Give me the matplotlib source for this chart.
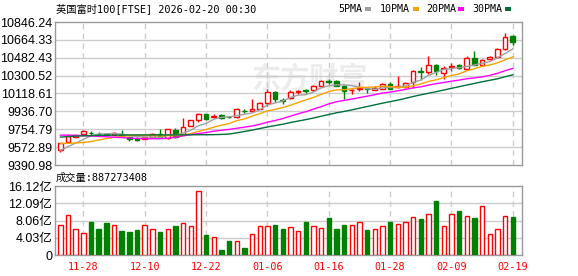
import numpy as np
import matplotlib
matplotlib.use("Agg")
import matplotlib.pyplot as plt
from matplotlib.patches import Rectangle

plt.rcParams['font.family'] = ['Liberation Sans', 'Noto Sans CJK SC']
MONO = ['DejaVu Sans Mono', 'Noto Sans CJK SC']

# trading days shown on the chart (MM-DD)
dates = ["11-25", "11-26", "11-27", "11-28", "12-01", "12-02", "12-03", "12-04", "12-05", "12-08",
         "12-09", "12-10", "12-11", "12-12", "12-15", "12-16", "12-17", "12-18", "12-19", "12-22",
         "12-23", "12-24", "12-29", "12-30", "12-31", "01-02", "01-05", "01-06", "01-07", "01-08",
         "01-09", "01-12", "01-13", "01-14", "01-15", "01-16", "01-19", "01-20", "01-21", "01-22",
         "01-23", "01-26", "01-27", "01-28", "01-29", "01-30", "02-02", "02-03", "02-04", "02-05",
         "02-06", "02-09", "02-10", "02-11", "02-12", "02-13", "02-16", "02-17", "02-18", "02-19"]
tick_dates = ["11-28", "12-10", "12-22", "01-06", "01-16", "01-28", "02-09", "02-19"]

opens = [9546, 9620, 9677, 9708, 9720, 9706, 9711, 9697, 9711, 9677,
         9660, 9657, 9671, 9711, 9661, 9745, 9697, 9792, 9849, 9906,
         9883, 9896, 9881, 9883, 9944, 9940, 9964, 10025, 10136, 10053,
         10068, 10138, 10155, 10152, 10199, 10249, 10250, 10199, 10150, 10165,
         10172, 10159, 10169, 10217, 10182, 10182, 10237, 10348, 10338, 10412,
         10328, 10390, 10405, 10371, 10479, 10412, 10469, 10489, 10573, 10705]
closes = [9610, 9687, 9697, 9732, 9716, 9703, 9694, 9714, 9687, 9657,
          9650, 9671, 9711, 9671, 9755, 9671, 9778, 9846, 9906, 9863,
          9890, 9873, 9876, 9957, 9939, 9957, 10025, 10132, 10058, 10040,
          10136, 10146, 10149, 10199, 10250, 10240, 10199, 10149, 10155, 10172,
          10160, 10176, 10217, 10169, 10192, 10227, 10351, 10340, 10405, 10344,
          10378, 10398, 10378, 10479, 10412, 10462, 10485, 10573, 10698, 10641]
highs = [9615, 9704, 9700, 9748, 9732, 9728, 9715, 9730, 9745, 9680,
         9673, 9676, 9717, 9762, 9758, 9772, 9873, 9850, 9920, 9913,
         9913, 9906, 9893, 9974, 9960, 10058, 10030, 10169, 10142, 10068,
         10152, 10159, 10166, 10206, 10260, 10267, 10258, 10203, 10166, 10233,
         10185, 10199, 10225, 10233, 10293, 10237, 10361, 10384, 10496, 10420,
         10395, 10429, 10415, 10496, 10556, 10470, 10503, 10580, 10732, 10712]
lows = [9525, 9610, 9672, 9705, 9698, 9684, 9690, 9694, 9685, 9640,
        9640, 9652, 9665, 9661, 9655, 9661, 9694, 9787, 9833, 9846,
        9866, 9856, 9866, 9873, 9917, 9937, 9957, 9990, 10035, 10015,
        10058, 10109, 10126, 10145, 10195, 10220, 10192, 10058, 10109, 10145,
        10125, 10150, 10160, 10160, 10176, 10172, 10176, 10260, 10321, 10311,
        10270, 10344, 10370, 10361, 10405, 10395, 10462, 10482, 10563, 10614]

ma5 = [9540, 9578, 9614, 9652, 9688, 9707, 9708, 9712, 9703, 9691,
       9680, 9676, 9675, 9672, 9692, 9696, 9717, 9744, 9791, 9813,
       9857, 9876, 9882, 9892, 9907, 9920, 9951, 10002, 10022, 10042,
       10078, 10102, 10106, 10134, 10176, 10197, 10207, 10207, 10199, 10183,
       10167, 10162, 10176, 10179, 10183, 10196, 10231, 10256, 10303, 10333,
       10364, 10373, 10381, 10395, 10409, 10426, 10443, 10482, 10526, 10572]
ma10 = [9610, 9612, 9615, 9620, 9630, 9645, 9660, 9672, 9682, 9690,
        9694, 9692, 9694, 9687, 9691, 9688, 9697, 9710, 9732, 9752,
        9776, 9796, 9813, 9842, 9860, 9889, 9913, 9942, 9957, 9975,
        9999, 10027, 10054, 10078, 10109, 10138, 10155, 10157, 10166, 10180,
        10182, 10185, 10192, 10189, 10183, 10182, 10197, 10216, 10241, 10258,
        10280, 10302, 10318, 10349, 10371, 10395, 10408, 10431, 10461, 10490]
ma20 = [9695, 9694, 9693, 9690, 9686, 9682, 9678, 9674, 9670, 9665,
        9661, 9659, 9658, 9658, 9663, 9672, 9688, 9700, 9711, 9721,
        9735, 9744, 9753, 9765, 9776, 9788, 9805, 9826, 9844, 9864,
        9888, 9912, 9933, 9960, 9985, 10013, 10034, 10049, 10062, 10077,
        10091, 10106, 10123, 10133, 10146, 10160, 10176, 10186, 10204, 10219,
        10231, 10244, 10255, 10269, 10277, 10288, 10303, 10324, 10351, 10374]
ma30 = [9675, 9680, 9685, 9688, 9690, 9692, 9694, 9695, 9696, 9697,
        9697, 9697, 9697, 9697, 9697, 9697, 9698, 9698, 9699, 9699,
        9700, 9702, 9706, 9718, 9732, 9746, 9762, 9778, 9792, 9806,
        9823, 9838, 9853, 9869, 9887, 9905, 9922, 9936, 9952, 9969,
        9986, 10003, 10020, 10036, 10051, 10069, 10088, 10105, 10121, 10137,
        10154, 10171, 10188, 10205, 10221, 10238, 10253, 10268, 10289, 10309]

# volume in 亿 (1e8 shares)
vol_yi = [7.01, 9.35, 6.00, 5.07, 7.71, 6.07, 7.48, 7.01, 5.61, 5.37,
          5.84, 7.01, 6.00, 5.37, 6.00, 6.78, 7.48, 6.78, 14.95, 4.67,
          4.13, 1.17, 3.27, 3.27, 1.64, 4.90, 6.78, 6.78, 7.01, 6.07,
          6.54, 5.61, 7.71, 6.78, 6.31, 8.64, 6.07, 7.01, 7.01, 7.71,
          5.84, 6.07, 6.78, 7.71, 7.24, 7.71, 8.88, 8.41, 9.58, 12.62,
          6.78, 9.58, 10.28, 9.11, 8.64, 11.45, 4.90, 6.07, 9.11, 8.87273408]

price_ticks = [9390.98, 9572.89, 9754.79, 9936.70, 10118.61, 10300.52, 10482.43, 10664.33, 10846.24]
vol_ticks = [0, 4.03, 8.06, 12.09, 16.12]

RED = '#ff0000'
GREEN = '#008000'
W, H = 578, 276

o = np.array(opens); c = np.array(closes)
x = np.arange(len(dates))
up = c >= o
cols = [RED if u else GREEN for u in up]
faces = ['white' if u else GREEN for u in up]
tick_idx = [dates.index(d) for d in tick_dates]

fig = plt.figure(figsize=(W / 100, H / 100), dpi=100)
ax = fig.add_axes([55 / W, 1 - 165 / H, 467 / W, 143 / H])
axv = fig.add_axes([55 / W, 1 - 255 / H, 467 / W, 69 / H])

for a in (ax, axv):
    a.set_xlim(-0.7, 60.2)
    for s in a.spines.values():
        s.set_color('#999999')
        s.set_linewidth(1)
    a.set_xticks(tick_idx)
    a.tick_params(length=0)
    for t in tick_idx:
        a.axvline(t, color='#cccccc', lw=1, ls=(0, (4, 3)), zorder=0.5)

# price panel
ax.set_ylim(price_ticks[0], price_ticks[-1])
ax.set_yticks(price_ticks)
ax.set_yticklabels(["%.2f" % v for v in price_ticks], fontsize=9)
ax.tick_params(axis='y', pad=2)
ax.set_xticklabels([])
for v in price_ticks[1:-1]:
    ax.axhline(v, color='#cccccc', lw=1, zorder=0.5)

ax.text(0.546, 0.6, '东方财富', transform=ax.transAxes, ha='center', va='center',
        fontsize=21, color='#ececec', fontweight='bold', zorder=0.3)

ax.vlines(x, lows, highs, colors=cols, lw=1, zorder=3)
ax.bar(x, np.abs(c - o), bottom=np.minimum(o, c), width=0.6, color=faces,
       edgecolor=cols, linewidth=1, zorder=4)

ax.plot(x, ma5, color='#a0a0a0', lw=1, zorder=5)
ax.plot(x, ma10, color='#f5a300', lw=1, zorder=5)
ax.plot(x, ma20, color='#ff00ff', lw=1, zorder=5)
ax.plot(x, ma30, color='#006f3c', lw=1, zorder=5)

# volume panel
axv.set_ylim(0, vol_ticks[-1])
axv.set_yticks(vol_ticks)
axv.set_yticklabels(["0"] + ["%.2f亿" % v for v in vol_ticks[1:]], fontsize=9)
axv.tick_params(axis='y', pad=2)
axv.set_xticklabels(tick_dates, family=MONO, fontsize=7.3, color=RED)
axv.tick_params(axis='x', pad=5)
for v in vol_ticks[1:-1]:
    axv.axhline(v, color='#cccccc', lw=1, zorder=0.5)
axv.bar(x, vol_yi, width=0.58, color=faces, edgecolor=cols, linewidth=1, zorder=3)

# header texts
fig.text(56 / W, 1 - 9 / H, '英国富时100[FTSE] 2026-02-20 00:30', family=MONO,
         fontsize=7.4, va='center', ha='left')
fig.text(56 / W, 1 - 178 / H, '成交量:%d' % round(vol_yi[-1] * 1e8), family=MONO,
         fontsize=7.4, va='center', ha='left')

legend = [("5PMA", 338, 365, '#a0a0a0'), ("10PMA", 380, 413, '#f5a300'),
          ("20PMA", 426, 458, '#ff00ff'), ("30PMA", 472, 505, '#006f3c')]
for name, tx, sx, col in legend:
    fig.text(tx / W, 1 - 9 / H, name, family=MONO, fontsize=7.2, va='center', ha='left')
    fig.add_artist(Rectangle((sx / W, 1 - 11 / H), 6 / W, 4 / H, transform=fig.transFigure,
                             facecolor=col, edgecolor='none'))

fig.savefig('out.png', dpi=100)
